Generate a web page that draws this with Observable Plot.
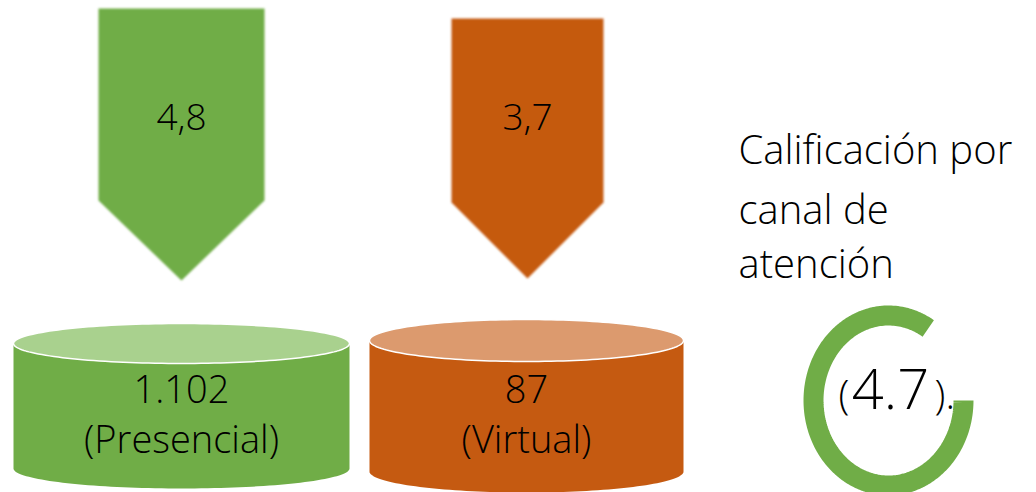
<!DOCTYPE html>
<html><head><meta charset="utf-8">
<script src="https://cdn.jsdelivr.net/npm/d3@7"></script>
<script src="https://cdn.jsdelivr.net/npm/@observablehq/plot@0.6"></script>
<style>html,body{margin:0;padding:0;background:#fff;overflow:hidden}</style>
</head><body><div id="chart"></div>
<script>
// ---- data ----
const channels = ["Presencial", "Virtual"];
const ratingLabels = ["4,8", "3,7"];
const countLabels = ["1.102", "87"];
const overallRating = "4.7";
const titleLines = ["Calificación por", "canal de", "atención"];
const bodyColors = ["#70AD47", "#C55A11"];
const topColors = ["#A9D18E", "#DC9A6E"];
const ringColor = "#70AD47";

// ---- layout (pixels) ----
const arrows = [
  {x0: 98, x1: 264, top: 8, shoulder: 200, tip: 280},
  {x0: 451, x1: 603, top: 18, shoulder: 202, tip: 278}
];
const cylinders = [
  {x0: 13, x1: 349, topCy: 343, botCy: 468, ry: 20},
  {x0: 369, x1: 683, topCy: 340, botCy: 471, ry: 21}
];
const ring = {cx: 888, cy: 400, rx: 75, ry: 85, gapDeg: 58, width: 20};

function ellipsePts(cx, cy, rx, ry, t0, t1, n) {
  const pts = [];
  for (let k = 0; k <= n; k++) {
    const t = t0 + (t1 - t0) * k / n;
    pts.push({x: cx + rx * Math.cos(t), y: cy + ry * Math.sin(t)});
  }
  return pts;
}

const marks = [];
channels.forEach((c, i) => {
  const a = arrows[i];
  const cxA = (a.x0 + a.x1) / 2;
  const arrowPts = [
    {x: a.x0, y: a.top}, {x: a.x1, y: a.top}, {x: a.x1, y: a.shoulder},
    {x: cxA, y: a.tip}, {x: a.x0, y: a.shoulder}, {x: a.x0, y: a.top}
  ];
  marks.push(Plot.line(arrowPts, {x: "x", y: "y", fill: bodyColors[i], stroke: "none", ariaDescription: "arrow"}));
  marks.push(Plot.text([ratingLabels[i]], {x: cxA, y: 129, text: d => d, fontSize: 37, lineAnchor: "bottom", fill: "#000"}));

  const cy = cylinders[i];
  const cxC = (cy.x0 + cy.x1) / 2, rx = (cy.x1 - cy.x0) / 2;
  const body = [{x: cy.x0, y: cy.topCy}, {x: cy.x0, y: cy.botCy},
    ...ellipsePts(cxC, cy.botCy, rx, cy.ry, Math.PI, 0, 80),
    {x: cy.x1, y: cy.topCy}, {x: cy.x0, y: cy.topCy}];
  marks.push(Plot.line(body, {x: "x", y: "y", fill: bodyColors[i], stroke: "none"}));
  marks.push(Plot.line(ellipsePts(cxC, cy.topCy, rx, cy.ry, 0, 2 * Math.PI, 160),
    {x: "x", y: "y", fill: topColors[i], stroke: "#fff", strokeWidth: 1.5}));
  marks.push(Plot.text([countLabels[i]], {x: cxC, y: 402, text: d => d, fontSize: 38, lineAnchor: "bottom", fill: "#000"}));
  marks.push(Plot.text(["(" + c + ")"], {x: cxC, y: 452, text: d => d, fontSize: 38, lineAnchor: "bottom", fill: "#000"}));
});

// ring
const ringPts = ellipsePts(ring.cx, ring.cy, ring.rx, ring.ry, 0, (360 - ring.gapDeg) * Math.PI / 180, 200);
marks.push(Plot.line(ringPts, {x: "x", y: "y", stroke: ringColor, strokeWidth: ring.width, strokeLinecap: "butt"}));
marks.push(Plot.text([overallRating], {x: 890, y: 408, text: d => d, fontSize: 56, lineAnchor: "bottom", fill: "#000"}));
marks.push(Plot.text(["("], {x: 849, y: 408, text: d => d, fontSize: 40, lineAnchor: "bottom", textAnchor: "end", fill: "#000"}));
marks.push(Plot.text([")."], {x: 934, y: 408, text: d => d, fontSize: 40, lineAnchor: "bottom", textAnchor: "start", fill: "#000"}));

// title
const titleY = [163, 223, 277];
marks.push(Plot.text(titleLines, {x: 738, y: (d, i) => titleY[i], text: d => d, fontSize: 40, lineAnchor: "bottom", textAnchor: "start", fill: "#000"}));

const chart = Plot.plot({
  width: 1036, height: 492, margin: 0,
  x: {domain: [0, 1036], range: [0, 1036], axis: null},
  y: {domain: [0, 492], range: [0, 492], axis: null},
  style: {fontFamily: "'Open Sans', sans-serif", fontWeight: 300, background: "#fff", overflow: "hidden"},
  marks
});
// soft edge for the arrows via an SVG filter
const ns = "http://www.w3.org/2000/svg";
const defs = document.createElementNS(ns, "defs");
const filt = document.createElementNS(ns, "filter");
filt.setAttribute("id", "soft");
filt.setAttribute("x", "-10%"); filt.setAttribute("y", "-10%");
filt.setAttribute("width", "120%"); filt.setAttribute("height", "120%");
const blur = document.createElementNS(ns, "feGaussianBlur");
blur.setAttribute("stdDeviation", "1");
filt.appendChild(blur); defs.appendChild(filt);
chart.insertBefore(defs, chart.firstChild);
chart.querySelectorAll('g[aria-description="arrow"]').forEach(g => g.setAttribute("filter", "url(#soft)"));
document.getElementById("chart").appendChild(chart);
</script></body></html>
